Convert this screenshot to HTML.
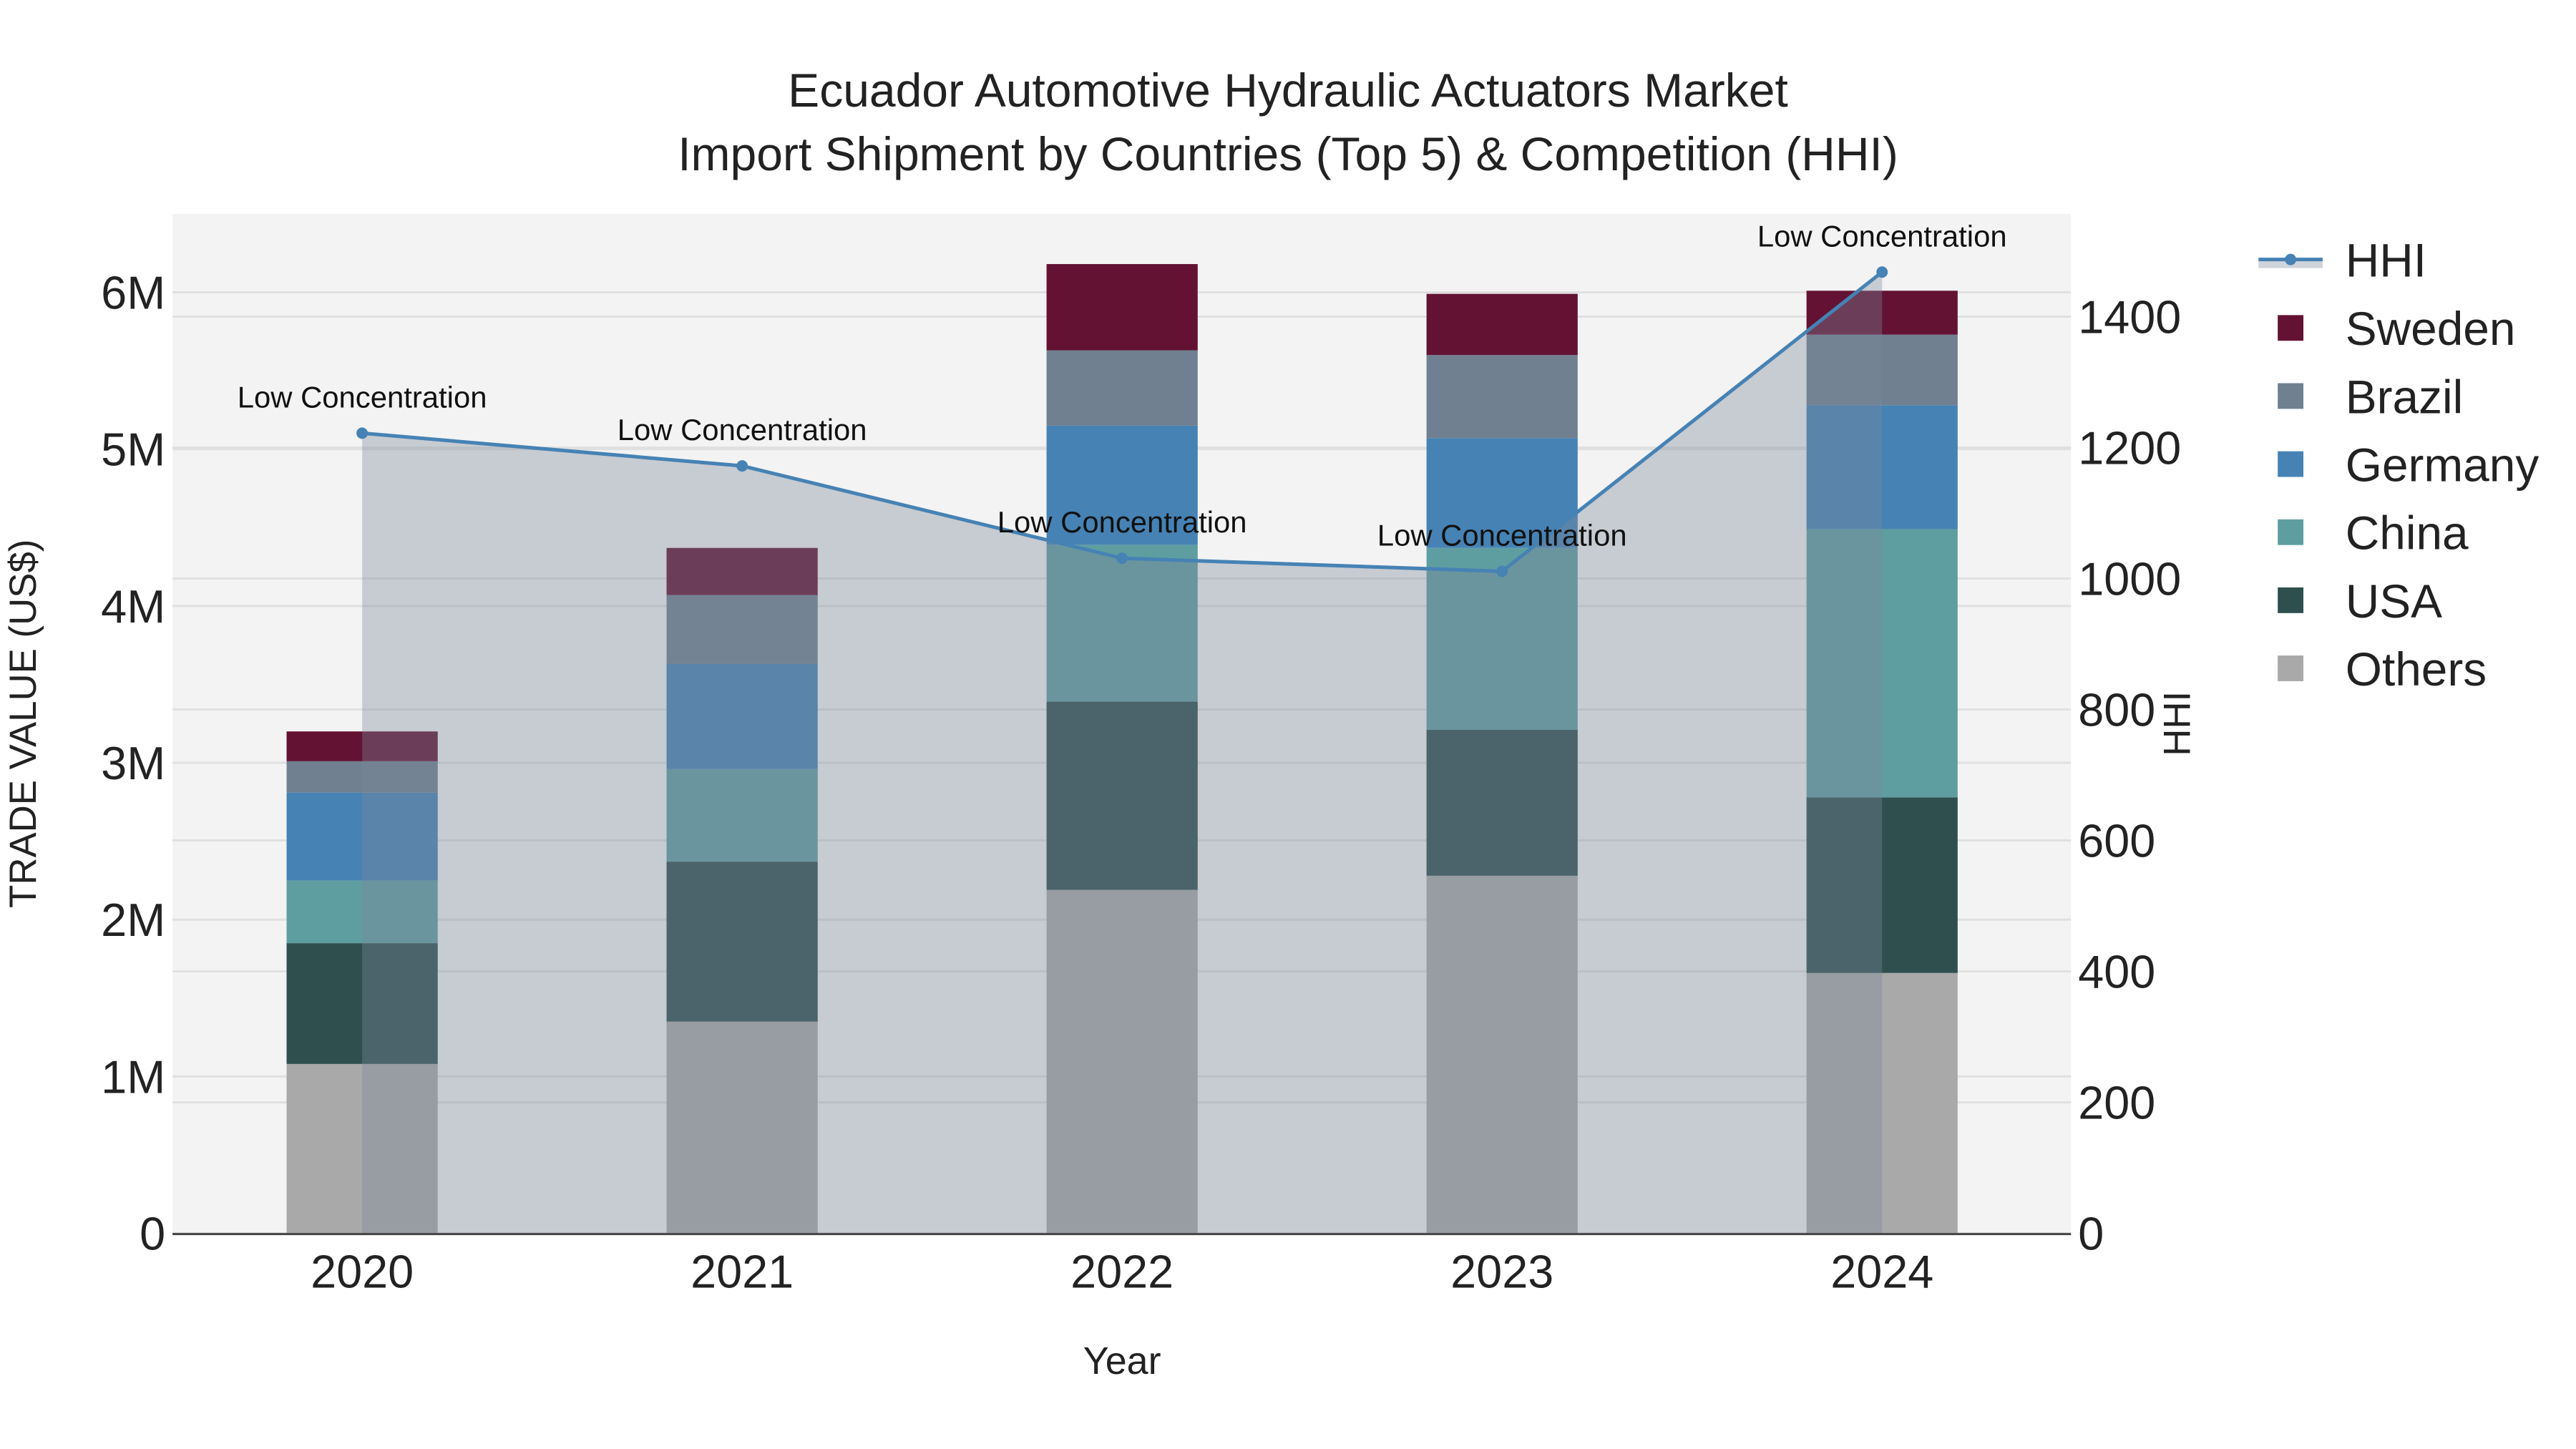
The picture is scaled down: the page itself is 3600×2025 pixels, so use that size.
<!DOCTYPE html>
<html><head><meta charset="utf-8"><style>
html,body{margin:0;padding:0;background:#fff;}
svg{display:block;font-family:"Liberation Sans",sans-serif;}
</style></head><body>
<svg id="chart" width="3600" height="2025" viewBox="0 0 3600 2025" xmlns="http://www.w3.org/2000/svg">
<rect x="0" y="0" width="3600" height="2025" fill="#fff"/>
<text x="1800" y="149" text-anchor="middle" font-size="66" fill="#222">Ecuador Automotive Hydraulic Actuators Market</text>
<text x="1800" y="238" text-anchor="middle" font-size="66" fill="#222">Import Shipment by Countries (Top 5) &amp; Competition (HHI)</text>
<g transform="scale(0.9963)">
<rect x="242" y="300" width="2663" height="1430" fill="#f3f3f3"/>
<g id="grid"></g>
<g id="bars"></g>
<g id="area"></g>
<line x1="242" y1="1731" x2="2905" y2="1731" stroke="#444" stroke-width="3"/>
<g id="ticks"></g>
<g id="hhi"></g>
<text transform="translate(50,1015) rotate(-90)" text-anchor="middle" font-size="53" fill="#222">TRADE VALUE (US$)</text>
<text transform="translate(3072,1015) rotate(-90)" text-anchor="middle" font-size="53" fill="#222">HHI</text>
<text x="1574" y="1927" text-anchor="middle" font-size="54" fill="#222">Year</text>
<g id="legend"></g>
</g>
</svg>
<script>
const years = ["2020","2021","2022","2023","2024"];
const others = [1.08, 1.35, 2.19, 2.28, 1.66];
const usa = [0.77, 1.02, 1.20, 0.93, 1.12];
const china = [0.40, 0.59, 1.00, 1.16, 1.71];
const germany = [0.56, 0.67, 0.76, 0.70, 0.79];
const brazil = [0.20, 0.44, 0.48, 0.53, 0.45];
const sweden = [0.19, 0.30, 0.55, 0.39, 0.28];
const hhi = [1222, 1172, 1031, 1011, 1468];
const hhiLabels = ["Low Concentration","Low Concentration","Low Concentration","Low Concentration","Low Concentration"];
const yTicks = [0,1,2,3,4,5,6];
const yTickLabels = ["0","1M","2M","3M","4M","5M","6M"];
const y2Ticks = [0,200,400,600,800,1000,1200,1400];

const NS="http://www.w3.org/2000/svg";
const X0=242,X1=2905,Y0=1730,YT=300;
const yMax=6.5, y2Max=(Y0-YT)/183.7*200;
const xs=i=>508+i*533;
const ys=v=>Y0-v/yMax*(Y0-YT);
const y2s=v=>Y0-v/y2Max*(Y0-YT);
function mk(tag,attrs,parent){const e=document.createElementNS(NS,tag);for(const k in attrs)e.setAttribute(k,attrs[k]);parent.appendChild(e);return e;}
const g=id=>document.getElementById(id);

yTicks.forEach((t,i)=>{
  const l=mk('line',{x1:X0,x2:X1,y1:ys(t),y2:ys(t),stroke:'#e0e0e0','stroke-width':3},g('grid'));
  
  
  const tx=mk('text',{x:232,y:ys(t)+23,'text-anchor':'end','font-size':65,fill:'#222'},g('ticks'));
  tx.textContent=yTickLabels[i];
  
  
});
y2Ticks.forEach(t=>{
  const l=mk('line',{x1:X0,x2:X1,y1:y2s(t),y2:y2s(t),stroke:'#e0e0e0','stroke-width':3},g('grid'));
  
  
  const tx=mk('text',{x:2915,y:y2s(t)+23,'font-size':65,fill:'#222'},g('ticks'));
  tx.textContent=String(t);
  
  
});
years.forEach((y,i)=>{
  const tx=mk('text',{x:xs(i),y:1806,'text-anchor':'middle','font-size':65,fill:'#222'},g('ticks'));
  tx.textContent=y;
  
  
});

const series=[["Others",others,"#a9a9a9"],["USA",usa,"#2f4f4f"],["China",china,"#5f9ea0"],["Germany",germany,"#4682b4"],["Brazil",brazil,"#708090"],["Sweden",sweden,"#631234"]];
years.forEach((y,i)=>{
  let base=0;
  series.forEach(s=>{
    const v=s[1][i];
    const r=mk('rect',{x:xs(i)-106,width:212,y:ys(base+v),height:ys(base)-ys(base+v),fill:s[2]},g('bars'));
    
    
    base+=v;
  });
});

let pts=hhi.map((v,i)=>xs(i)+','+y2s(v)).join(' ');
const ar=mk('polygon',{points:xs(0)+','+Y0+' '+pts+' '+xs(hhi.length-1)+','+Y0,fill:'rgba(125,136,155,0.37)'},g('area'));


const pl=mk('polyline',{points:pts,fill:'none',stroke:'#4682b4','stroke-width':5},g('hhi'));


hhi.forEach((v,i)=>{
  const c=mk('circle',{cx:xs(i),cy:y2s(v),r:8,fill:'#4682b4'},g('hhi'));
  
  
  const t=mk('text',{x:xs(i),y:y2s(v)-36,'text-anchor':'middle','font-size':42,fill:'#111'},g('hhi'));
  t.textContent=hhiLabels[i];
  
  
});

const lg=g('legend');
mk('rect',{x:3168,y:366,width:90,height:10,fill:'#cfd3da'},lg);
mk('line',{x1:3168,x2:3258,y1:364,y2:364,stroke:'#4682b4','stroke-width':5},lg);
mk('circle',{cx:3213,cy:364,r:8,fill:'#4682b4'},lg);
const ht=mk('text',{x:3290,y:388,'font-size':66,fill:'#222'},lg);
ht.textContent='HHI';


[...series].reverse().forEach((s,k)=>{
  const cy=460+k*95.5;
  const r=mk('rect',{x:3195,y:cy-18,width:36,height:36,fill:s[2]},lg);
  
  
  const t=mk('text',{x:3290,y:cy+24,'font-size':66,fill:'#222'},lg);
  t.textContent=s[0];
  
  
});
</script>
</body></html>
